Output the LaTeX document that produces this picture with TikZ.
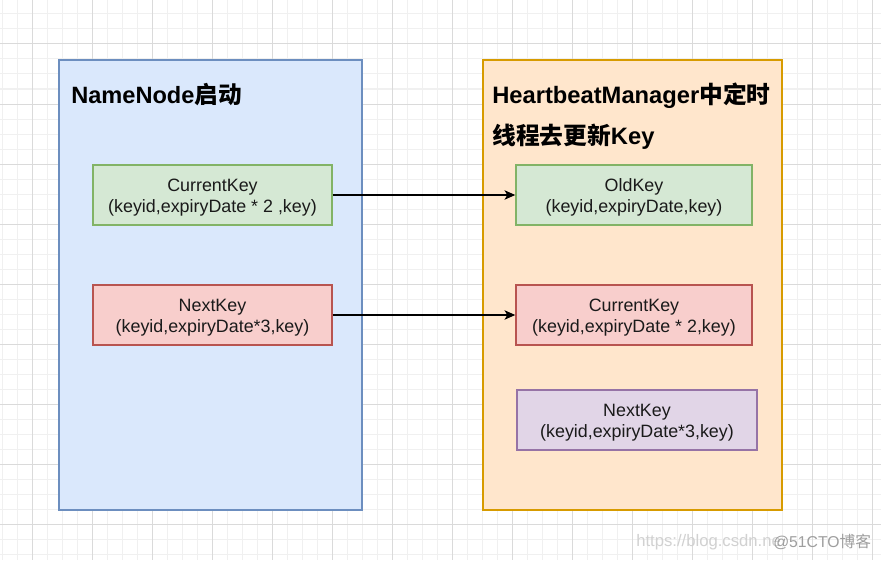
\documentclass[tikz,border=0pt]{standalone}
\usepackage{fontspec}
\setmainfont{Liberation Sans}
\newfontfamily\cjk{Noto Sans CJK SC}
\usetikzlibrary{arrows.meta}
\definecolor{bluefill}{HTML}{DAE8FC}
\definecolor{bluedraw}{HTML}{6C8EBF}
\definecolor{orangefill}{HTML}{FFE6CC}
\definecolor{orangedraw}{HTML}{D79B00}
\definecolor{greenfill}{HTML}{D5E8D4}
\definecolor{greendraw}{HTML}{82B366}
\definecolor{redfill}{HTML}{F8CECC}
\definecolor{reddraw}{HTML}{B85450}
\definecolor{purplefill}{HTML}{E1D5E7}
\definecolor{purpledraw}{HTML}{9673A6}
\definecolor{minorgrid}{HTML}{F0F0F0}
\definecolor{majorgrid}{HTML}{DADADA}
\definecolor{textcol}{HTML}{1A1A1A}
\newcommand{\firstline}{\rule{0pt}{14pt}}
\tikzset{
  minorline/.style={draw=minorgrid, line width=0.75pt},
  majorline/.style={draw=majorgrid, line width=0.75pt},
  container/.style={draw, line width=1.1pt, inner sep=0pt},
  keybox/.style={draw, line width=1.1pt, align=center, inner sep=0pt,
    minimum height={60*0.75pt}, text=textcol,
    font=\fontsize{13.4}{15.75}\selectfont},
  titletext/.style={anchor=west, inner sep=0pt, align=left, text=black},
  flow/.style={draw=black, line width=1.1pt, -{Stealth[length=8pt,width=7pt,inset=2pt]}},
}
\begin{document}
\begin{tikzpicture}[x=0.75pt,y=-0.75pt]
\fill[white] (0,0) rectangle (881,560);
\useasboundingbox (0,0) rectangle (881,560);
% grid
\foreach \x in {2,17,...,881} \draw[minorline] (\x,0) -- (\x,560);
\foreach \y in {14,29,...,560} \draw[minorline] (0,\y) -- (881,\y);
\foreach \x in {32,92,...,881} \draw[majorline] (\x,0) -- (\x,560);
\foreach \y in {44,104,...,560} \draw[majorline] (0,\y) -- (881,\y);
% containers
\node[container, fill=bluefill, draw=bluedraw,
  minimum width={303*0.75pt}, minimum height={450*0.75pt}] (nn) at (210.5,285) {};
\node[container, fill=orangefill, draw=orangedraw,
  minimum width={299*0.75pt}, minimum height={450*0.75pt}] (hb) at (632.5,285) {};
% titles
\node[titletext, font=\fontsize{17.7}{21}\selectfont\bfseries] (nntitle) at (71,95)
  {NameNode{\cjk\bfseries 启动}};
\node[titletext, font=\fontsize{17.8}{30.5}\selectfont\bfseries] (hbtitle) at (492,116)
  {HeartbeatManager{\cjk\bfseries 中定时}\\{\cjk\bfseries 线程去更新}Key};
% key boxes
\node[keybox, fill=greenfill, draw=greendraw, minimum width={239*0.75pt}] (lcur) at (212.5,195)
  {\firstline CurrentKey\\(keyid,expiryDate * 2 ,key)};
\node[keybox, fill=redfill, draw=reddraw, minimum width={239*0.75pt}] (lnext) at (212.5,315)
  {\firstline NextKey\\(keyid,expiryDate*3,key)};
\node[keybox, fill=greenfill, draw=greendraw, minimum width={236*0.75pt}] (old) at (634,195)
  {\firstline OldKey\\(keyid,expiryDate,key)};
\node[keybox, fill=redfill, draw=reddraw, minimum width={236*0.75pt}] (rcur) at (634,315)
  {\firstline CurrentKey\\(keyid,expiryDate * 2,key)};
\node[keybox, fill=purplefill, draw=purpledraw, minimum width={240*0.75pt}] (rnext) at (637,420)
  {\firstline NextKey\\(keyid,expiryDate*3,key)};
% arrows
\draw[flow] (lcur.east) -- (old.west);
\draw[flow] (lnext.east) -- (rcur.west);
% watermark
\node[anchor=west, inner sep=0pt, text=black!18, font=\fontsize{12.5}{14}\selectfont] (wm1) at (636,542)
  {https://blog.csdn.ne};
\node[anchor=west, inner sep=0pt, text=black!38, font=\fontsize{11.8}{14}\selectfont] (wm2) at (773,542)
  {@51CTO{\cjk 博客}};
\end{tikzpicture}
\end{document}
